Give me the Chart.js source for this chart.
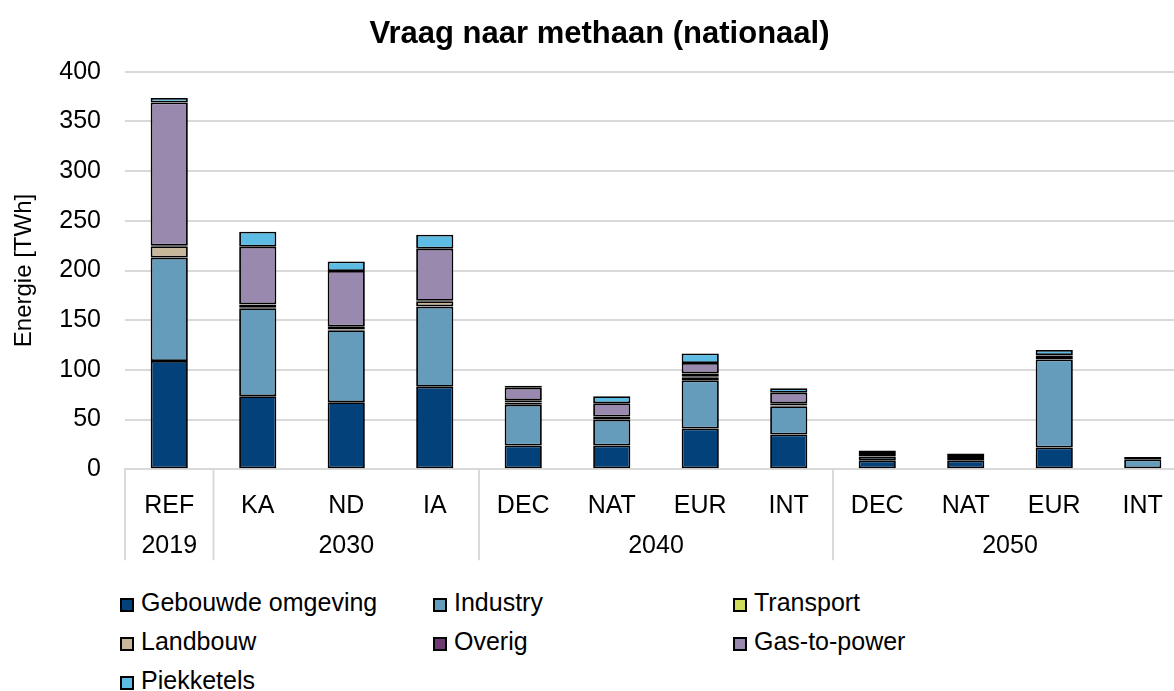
<!DOCTYPE html>
<html>
<head>
<meta charset="utf-8">
<script src="https://cdn.jsdelivr.net/npm/chart.js@4"></script>
<style>
  html, body { margin: 0; padding: 0; background: #fff; overflow: hidden; }
  #wrap { position: relative; width: 1174px; height: 691px; overflow: hidden; }
  #box { position: absolute; left: 0; top: 0; width: 1187px; height: 570px; }
  #legend { position: absolute; left: 0; top: 583px; font-family: "Liberation Sans", Arial, sans-serif; font-size: 25px; color: #000; }
  .item { position: absolute; white-space: nowrap; line-height: 38px; }
  .sw { display: inline-block; width: 10px; height: 10px; border: 2px solid #000; margin-right: 7px; vertical-align: -1px; }
</style>
</head>
<body>
<div id="wrap">
  <div id="box"><canvas id="chart"></canvas></div>
  <div id="legend"></div>
</div>
<script>
// scenarios per x-slot and the years they belong to
const categories = ['REF', 'KA', 'ND', 'IA', 'DEC', 'NAT', 'EUR', 'INT', 'DEC', 'NAT', 'EUR', 'INT'];
const years = ['2019', '2030', '2040', '2050'];
const yearSizes = [1, 3, 4, 4];

// TWh
const gebouwd   = [109, 73.5, 67.5, 83, 24, 24, 41, 35, 9, 9, 22, 0];
const industry  = [104, 88.5, 72.5, 80.5, 41, 26, 48.5, 28.5, 4, 3.5, 88.5, 10];
const transport = [0, 0.5, 0.5, 0.5, 2, 0.5, 3, 0.5, 3.5, 0, 3.5, 0];
const landbouw  = [11.5, 3, 0.5, 5, 0.5, 0, 0.5, 0.5, 0, 0, 0, 0];
const overig    = [0.5, 0.5, 2.5, 0.5, 2, 2.5, 3.5, 2, 2.5, 1, 0.5, 2.5];
const gasToPower = [144, 58, 56, 52.5, 12.5, 13.5, 10.5, 10.5, 0, 0, 0.5, 0];
const piek      = [4.5, 15, 9.5, 14, 2, 7, 9.5, 4.5, 0, 2.5, 5, 0];

const yTicks = [0, 50, 100, 150, 200, 250, 300, 350, 400];

const series = [
    { label: 'Gebouwde omgeving', data: gebouwd, color: '#02417A' },
    { label: 'Industry', data: industry, color: '#659CBB' },
    { label: 'Transport', data: transport, color: '#CDDC5C' },
    { label: 'Landbouw', data: landbouw, color: '#C9B79C' },
    { label: 'Overig', data: overig, color: '#6E3B73' },
    { label: 'Gas-to-power', data: gasToPower, color: '#9A89AE' },
    { label: 'Piekketels', data: piek, color: '#5DBCE4' }
];

const FONT = '"Liberation Sans", Arial, sans-serif';

// second row of x labels (years) + separators between year groups
const yearRow = {
    id: 'yearRow',
    afterDraw(chart) {
        const ctx = chart.ctx;
        const x = chart.scales.x;
        const bottom = chart.chartArea.bottom;
        let idx = 0;
        const seps = [chart.chartArea.left];
        ctx.save();
        ctx.font = '25px ' + FONT;
        ctx.fillStyle = '#000';
        ctx.textAlign = 'center';
        ctx.textBaseline = 'middle';
        years.forEach((yr, g) => {
            const first = x.getPixelForValue(idx);
            const last = x.getPixelForValue(idx + yearSizes[g] - 1);
            ctx.fillText(yr, (first + last) / 2, bottom + 77);
            idx += yearSizes[g];
            if (idx < categories.length) {
                seps.push((last + x.getPixelForValue(idx)) / 2);
            }
        });
        ctx.strokeStyle = '#d9d9d9';
        ctx.lineWidth = 2;
        seps.forEach(sx => {
            ctx.beginPath();
            ctx.moveTo(sx, bottom);
            ctx.lineTo(sx, bottom + 91);
            ctx.stroke();
        });
        ctx.restore();
    }
};

new Chart(document.getElementById('chart').getContext('2d'), {
    type: 'bar',
    data: {
        labels: categories,
        datasets: series.map(s => ({
            label: s.label,
            data: s.data,
            backgroundColor: s.color,
            borderColor: '#000',
            borderWidth: 1.8,
            borderSkipped: false,
            categoryPercentage: 1,
            barPercentage: 0.42
        }))
    },
    options: {
        responsive: true,
        maintainAspectRatio: false,
        animation: false,
        layout: { padding: { left: 12, right: 0, top: 0, bottom: 0 } },
        plugins: {
            legend: { display: false },
            tooltip: { enabled: false },
            title: {
                display: true,
                text: 'Vraag naar methaan (nationaal)',
                color: '#000',
                font: { family: FONT, size: 31, weight: 'bold' },
                padding: { top: 16, bottom: 18.5 }
            }
        },
        scales: {
            x: {
                stacked: true,
                grid: { display: false },
                border: { display: true, color: '#d9d9d9', width: 2 },
                ticks: { color: '#000', font: { family: FONT, size: 25 }, padding: 14, maxRotation: 0, autoSkip: false },
                afterFit(scale) { scale.height = 100.7; }
            },
            y: {
                stacked: true,
                min: 0,
                max: 400,
                afterBuildTicks(scale) { scale.ticks = yTicks.map(v => ({ value: v })); },
                grid: { color: '#d9d9d9', lineWidth: 2, drawTicks: false },
                border: { display: false },
                ticks: { color: '#000', font: { family: FONT, size: 25 }, padding: 24 },
                title: {
                    display: true,
                    text: 'Energie [TWh]',
                    color: '#000',
                    font: { family: FONT, size: 24, lineHeight: 1 },
                    padding: { top: 0, bottom: 0 }
                },
                afterFit(scale) { scale.width = 113; }
            }
        }
    },
    plugins: [yearRow]
});

// legend: three columns, row-major like the original
const legendCols = [120, 433, 733];
const legend = document.getElementById('legend');
series.forEach((s, i) => {
    const item = document.createElement('div');
    item.className = 'item';
    item.style.left = legendCols[i % 3] + 'px';
    item.style.top = (Math.floor(i / 3) * 39) + 'px';
    const sw = document.createElement('span');
    sw.className = 'sw';
    sw.style.background = s.color;
    item.appendChild(sw);
    item.appendChild(document.createTextNode(s.label));
    legend.appendChild(item);
});
</script>
</body>
</html>
